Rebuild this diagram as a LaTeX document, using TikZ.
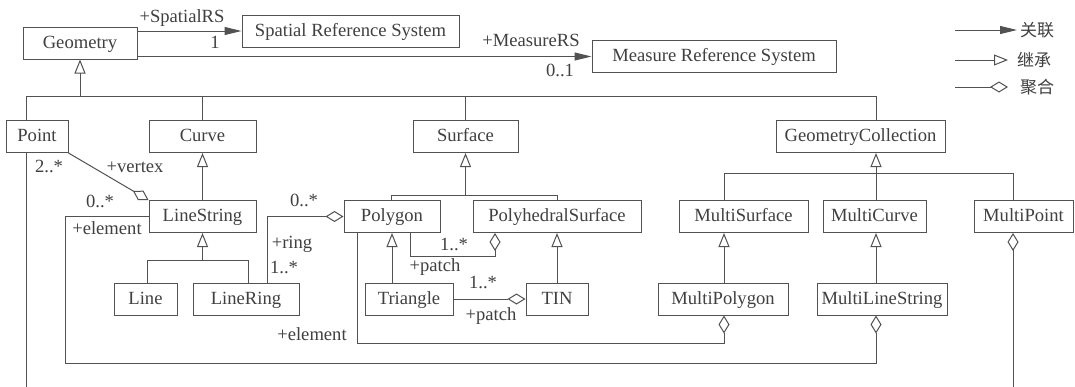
\documentclass[tikz,border=0pt]{standalone}
\usepackage{fontspec}
\setmainfont{Liberation Serif}
\newfontfamily\cjkfont{Noto Sans CJK SC}
\usetikzlibrary{arrows.meta}
\definecolor{ink}{gray}{0.32}
\definecolor{txt}{gray}{0.25}

\begin{document}
\begin{tikzpicture}[x=1pt,y=-1pt,
  cls/.style={draw=ink, line width=1pt, text=txt, minimum height=32pt,
    inner sep=0pt, text height=13pt, text depth=3pt,
    font=\fontsize{18.6}{20}\selectfont},
  lbl/.style={text=txt, inner sep=0pt, text height=13pt, text depth=3pt,
    font=\fontsize{18.6}{20}\selectfont},
  cjk/.style={text=txt, inner sep=2pt, anchor=west,
    font=\cjkfont\fontsize{17}{18}\selectfont},
  conn/.style={draw=ink, line width=1pt},
  inh/.style={conn, -{Triangle[open,length=14pt,width=11pt]}},
  agg/.style={conn, -{Diamond[open,length=18pt,width=11pt]}},
  assoc/.style={conn, -{Triangle[length=17pt,width=8pt]}},
]
\useasboundingbox (0,0) rectangle (1075,386);
\fill[white] (0,0) rectangle (1075,386);
\clip (0,0) rectangle (1075,386);

% classes
\node[cls, minimum width=114pt] (Geometry) at (80,43) {Geometry};
\node[cls, minimum width=217pt] (SRS) at (350.5,31) {Spatial Reference System};
\node[cls, minimum width=244pt] (MRS) at (714,56.5) {Measure Reference System};
\node[cls, minimum width=62pt] (Point) at (37,136.5) {Point};
\node[cls, minimum width=107pt] (Curve) at (202.5,136.5) {Curve};
\node[cls, minimum width=105pt] (Surface) at (465.5,136.5) {Surface};
\node[cls, minimum width=169pt] (GC) at (860.5,136.5) {GeometryCollection};
\node[cls, minimum width=107pt] (LineString) at (202.5,216.5) {LineString};
\node[cls, minimum width=96pt] (Polygon) at (392,216.5) {Polygon};
\node[cls, minimum width=168pt] (PS) at (557,216.5) {PolyhedralSurface};
\node[cls, minimum width=129pt] (MSurf) at (743.5,216.5) {MultiSurface};
\node[cls, minimum width=103pt] (MCurve) at (874.5,216.5) {MultiCurve};
\node[cls, minimum width=99pt] (MPoint) at (1023.5,216.5) {MultiPoint};
\node[cls, minimum width=63pt] (Line) at (145.5,299) {Line};
\node[cls, minimum width=106pt] (LineRing) at (246,299) {LineRing};
\node[cls, minimum width=88pt] (Triangle) at (409,299) {Triangle};
\node[cls, minimum width=62pt] (TIN) at (557,299) {TIN};
\node[cls, minimum width=130pt] (MPolygon) at (723,299) {MultiPolygon};
\node[cls, minimum width=130pt] (MLS) at (882,299) {MultiLineString};

% associations
\draw[assoc] (SRS.west -| Geometry.east) -- (SRS.west);
\draw[assoc] (MRS.west -| Geometry.east) -- (MRS.west);

% generalisation: Geometry
\coordinate (tbL) at (26,96);
\coordinate (tbG) at (80,96);
\coordinate (tbC) at (202.5,96);
\coordinate (tbS) at (465.5,96);
\coordinate (tbR) at (876,96);
\draw[conn] (tbL) -- (tbR);
\draw[inh] (tbG) -- (Geometry.south);
\draw[conn] (tbL) -- (Point.north -| tbL);
\draw[conn] (tbC) -- (Curve.north);
\draw[conn] (tbS) -- (Surface.north);
\draw[conn] (tbR) -- (GC.north -| tbR);

% generalisation: Curve / LineString
\draw[inh] (LineString.north) -- (Curve.south);
\coordinate (lsb) at (202.5,260);
\coordinate (lsL) at (147,260);
\coordinate (lsR) at (248,260);
\draw[inh] (lsb) -- (LineString.south);
\draw[conn] (Line.north -| lsL) |- (lsR) -- (LineRing.north -| lsR);

% generalisation: Surface
\coordinate (sb) at (465.5,195);
\coordinate (sL) at (391,195);
\coordinate (sR) at (557,195);
\draw[inh] (sb) -- (Surface.south);
\draw[conn] (Polygon.north -| sL) |- (sR) -- (PS.north);
\draw[inh] (Triangle.north -| Polygon.south) -- (Polygon.south);
\draw[inh] (TIN.north) -- (PS.south);

% generalisation: GeometryCollection
\coordinate (gb) at (876,173);
\coordinate (gL) at (724,173);
\coordinate (gR) at (1013,173);
\draw[inh] (gb) -- (GC.south -| gb);
\draw[conn] (MSurf.north -| gL) |- (gR) -- (MPoint.north -| gR);
\draw[conn] (MCurve.north -| gb) -- (gb);
\draw[inh] (MLS.north -| gb) -- (MCurve.south -| gb);
\draw[inh] (MPolygon.north -| gL) -- (MSurf.south -| gL);

% aggregations
\draw[agg] (Point.south east) -- (LineString.north west);
\coordinate (e1a) at (65,363);
\coordinate (e1b) at (876,363);
\draw[agg] (LineString.west) -| (e1a) -- (e1b) -- (MLS.south -| e1b);
\coordinate (rg) at (267,216.5);
\draw[agg] (LineRing.north -| rg) |- (Polygon.west);
\coordinate (pa) at (410,256);
\coordinate (pb) at (495,256);
\draw[agg] (Polygon.south -| pa) |- (pb) -- (PS.south -| pb);
\coordinate (ea) at (357,343);
\coordinate (eb) at (724,343);
\draw[agg] (Polygon.south -| ea) |- (eb) -- (MPolygon.south -| eb);
\draw[agg] (Triangle.east) -- (TIN.west);
\coordinate (pma) at (26,400);
\coordinate (pmb) at (1013,400);
\draw[agg] (Point.south -| pma) |- (pmb) -- (MPoint.south -| pmb);

% role names and multiplicities
\node[lbl] (lSp) at (182,17) {+SpatialRS};
\node[lbl] (lSpM) at (215,43) {1};
\node[lbl] (lMe) at (531,41) {+MeasureRS};
\node[lbl] (lMeM) at (560,71) {0..1};
\node[lbl] (lV1) at (49,167) {2..*};
\node[lbl] (lV) at (135,167) {+vertex};
\node[lbl] (lV2) at (100,202) {0..*};
\node[lbl] (lE1) at (107,229) {+element};
\node[lbl] (lR1) at (304,201) {0..*};
\node[lbl] (lR) at (292,243) {+ring};
\node[lbl] (lR2) at (284,268) {1..*};
\node[lbl] (lP1) at (454,245) {1..*};
\node[lbl] (lP) at (435,266) {+patch};
\node[lbl] (lT1) at (483,283) {1..*};
\node[lbl] (lT) at (491,315) {+patch};
\node[lbl] (lE2) at (312,335) {+element};

% legend
\coordinate (lg1s) at (955,30);
\coordinate (lg2s) at (955,60);
\coordinate (lg3s) at (955,87);
\node[cjk] (lg1) at (1018,30) {关联};
\node[cjk] (lg2) at (1015,60) {继承};
\node[cjk] (lg3) at (1018,87) {聚合};
\draw[assoc, shorten >=1pt] (lg1s) -- (lg1.west);
\draw[inh, shorten >=7pt] (lg2s) -- (lg2.west);
\draw[agg, shorten >=10pt] (lg3s) -- (lg3.west);
\end{tikzpicture}
\end{document}
